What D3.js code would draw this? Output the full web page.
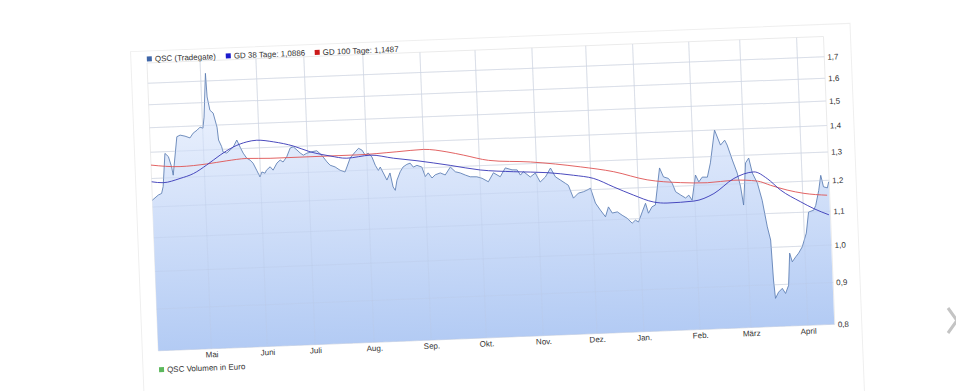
<!DOCTYPE html>
<html>
<head>
<meta charset="utf-8">
<script src="https://cdn.jsdelivr.net/npm/d3@7"></script>
<style>
  body { margin: 0; background: #fff; }
  svg { display: block; font-family: "Liberation Sans", Arial, sans-serif; }
</style>
</head>
<body>
<svg id="chart" width="956" height="391"></svg>
<script>
// trading day index -> closing price (Tradegate)
const price = [
  [0, 1.223], [2.4, 1.240], [3.7, 1.245], [4.4, 1.269], [5.6, 1.393], [6.9, 1.380],
  [8.0, 1.340], [8.5, 1.309], [10.5, 1.458], [11.8, 1.464], [13.7, 1.459], [15.6, 1.451],
  [16.9, 1.470], [18.5, 1.482], [19.7, 1.494], [20.8, 1.489], [21.4, 1.536], [22.6, 1.737],
  [22.9, 1.625], [23.8, 1.565], [25.0, 1.552], [26.3, 1.491], [26.7, 1.438], [27.8, 1.411],
  [28.3, 1.389], [29.7, 1.385], [31.0, 1.396], [32.3, 1.407], [33.8, 1.435], [35.0, 1.406],
  [36.1, 1.382], [37.4, 1.362], [38.7, 1.354], [39.8, 1.342], [41.1, 1.315], [42.3, 1.290],
  [43.1, 1.308], [44.3, 1.303], [44.9, 1.314], [46.4, 1.326], [47.5, 1.313], [49.1, 1.339],
  [50.4, 1.350], [51.5, 1.342], [53.0, 1.361], [54.5, 1.395], [55.7, 1.399], [57.1, 1.386],
  [58.3, 1.374], [59.5, 1.365], [60.9, 1.372], [62.9, 1.377], [64.8, 1.380], [66.7, 1.362],
  [68.6, 1.336], [69.8, 1.323], [71.7, 1.316], [73.6, 1.303], [75.5, 1.296], [76.3, 1.314],
  [77.7, 1.347], [79.8, 1.370], [81.1, 1.383], [82.4, 1.376], [83.6, 1.356], [84.8, 1.363],
  [86.2, 1.348], [87.4, 1.316], [88.5, 1.297], [89.3, 1.309], [90.4, 1.287], [91.7, 1.261],
  [93.0, 1.286], [94.0, 1.236], [94.8, 1.224], [95.6, 1.259], [97.0, 1.289], [98.2, 1.306],
  [99.7, 1.315], [101.0, 1.319], [102.2, 1.304], [103.6, 1.310], [105.5, 1.303], [106.7, 1.268],
  [107.9, 1.281], [109.3, 1.262], [110.6, 1.273], [112.6, 1.279], [114.5, 1.271], [116.6, 1.299],
  [118.5, 1.281], [120.4, 1.276], [122.3, 1.268], [124.2, 1.261], [126.8, 1.260], [128.8, 1.254],
  [131.2, 1.241], [133.3, 1.272], [135.9, 1.257], [138.0, 1.288], [140.6, 1.280], [142.6, 1.279],
  [143.8, 1.260], [145.0, 1.272], [147.6, 1.252], [149.6, 1.265], [151.4, 1.233], [153.5, 1.250],
  [155.6, 1.281], [157.4, 1.249], [159.3, 1.237], [161.2, 1.225], [162.3, 1.218], [164.1, 1.174],
  [166.1, 1.190], [168.1, 1.194], [169.5, 1.199], [170.9, 1.205], [172.6, 1.155], [174.4, 1.132],
  [176.3, 1.110], [177.6, 1.141], [179.0, 1.121], [181.0, 1.124], [182.8, 1.113], [184.7, 1.103],
  [186.6, 1.087], [187.9, 1.096], [189.1, 1.090], [190.7, 1.121], [192.1, 1.148], [193.1, 1.116],
  [194.6, 1.136], [195.9, 1.141], [198.1, 1.266], [199.5, 1.234], [201.4, 1.228], [202.8, 1.211],
  [204.0, 1.182], [206.0, 1.170], [207.8, 1.160], [209.1, 1.169], [210.3, 1.152], [212.0, 1.236],
  [213.2, 1.212], [214.6, 1.228], [216.6, 1.227], [218.0, 1.277], [220.1, 1.400], [222.2, 1.341],
  [223.9, 1.359], [224.8, 1.340], [226.6, 1.284], [228.3, 1.237], [229.4, 1.190], [230.3, 1.130],
  [231.7, 1.272], [233.0, 1.289], [234.2, 1.235], [236.0, 1.200], [237.6, 1.143], [239.2, 1.060],
  [240.3, 1.021], [240.8, 0.912], [241.3, 0.866], [242.6, 0.881], [244.1, 0.890], [245.3, 0.877],
  [246.6, 0.897], [247.5, 0.982], [248.4, 0.958], [249.8, 0.971], [251.0, 0.981], [252.5, 0.998],
  [254.3, 1.037], [255.5, 1.100], [257.5, 1.105], [258.4, 1.120], [259.8, 1.168], [260.8, 1.218],
  [261.7, 1.179], [263.2, 1.175], [263.8, 1.195]
];

// 38 day moving average
const gd38 = [
  [0, 1.288], [4.5, 1.283], [11.1, 1.296], [16.4, 1.312], [21.7, 1.342], [27.1, 1.378],
  [32.4, 1.408], [37.7, 1.426], [41.6, 1.431], [48.0, 1.422], [55.8, 1.402], [62.2, 1.377],
  [69.9, 1.358], [76.4, 1.347], [85.6, 1.355], [94.6, 1.340], [103.7, 1.327], [116.6, 1.305],
  [128.2, 1.284], [141.2, 1.273], [154.2, 1.265], [164.5, 1.252], [172.3, 1.238], [180.0, 1.206],
  [187.6, 1.176], [195.3, 1.151], [200.5, 1.146], [211.0, 1.149], [218.9, 1.171], [226.9, 1.219],
  [234.8, 1.239], [239.9, 1.214], [244.9, 1.174], [252.6, 1.133], [257.6, 1.110], [263.4, 1.089]
];

// 100 day moving average
const gd100 = [
  [0, 1.350], [11.3, 1.340], [21.7, 1.346], [29.6, 1.355], [37.4, 1.361], [46.5, 1.358],
  [62.1, 1.358], [80.4, 1.358], [96.0, 1.364], [106.4, 1.369], [115.5, 1.356], [122.0, 1.341],
  [131.6, 1.318], [147.9, 1.306], [167.3, 1.281], [180.2, 1.259], [193.1, 1.226], [206.0, 1.212],
  [216.5, 1.208], [226.9, 1.213], [236.0, 1.207], [241.1, 1.191], [247.5, 1.173], [254.0, 1.160],
  [263.0, 1.151]
];

const monthLabels = ["Mai", "Juni", "Juli", "Aug.", "Sep.", "Okt.", "Nov.", "Dez.", "Jan.", "Feb.", "März", "April"];
const monthDays = [20.7, 42.5, 61.2, 84.2, 106.5, 128, 150.2, 171.2, 189.5, 211.4, 231.3, 253.5];
const yTicks = [0.8, 0.9, 1.0, 1.1, 1.2, 1.3, 1.4, 1.5, 1.6, 1.7];

const legendItems = [
  { name: "QSC (Tradegate)", color: "#3f66a8" },
  { name: "GD 38 Tage: 1,0886", color: "#1a1acc" },
  { name: "GD 100 Tage: 1,1487", color: "#cc1a1a" }
];

const W = 677, H = 288;
const svg = d3.select("#chart");

const de = d3.formatLocale({ decimal: ",", thousands: ".", grouping: [3], currency: ["", " €"] });
const fmt = de.format(".1f");

const x = d3.scaleLinear().domain([0, 264]).range([0, W]);
const y = d3.scaleLog().domain([0.8, 1.8]).range([H, 0]);

// the chart sits slightly tilted on the page
const g = svg.append("g").attr("transform", "translate(147,63) rotate(-2.25)");

g.append("rect")
  .attr("x", -16).attr("y", -12)
  .attr("width", W + 43).attr("height", 380)
  .attr("fill", "#fff")
  .attr("stroke", "#efefef");

const grad = svg.append("defs").append("linearGradient")
  .attr("id", "fillGrad")
  .attr("gradientUnits", "userSpaceOnUse")
  .attr("x1", 0).attr("y1", 0).attr("x2", 0).attr("y2", H);
grad.append("stop").attr("offset", 0).attr("stop-color", "#f5f8ff");
grad.append("stop").attr("offset", 1).attr("stop-color", "#b3cbf4");

// grid
g.append("g")
  .selectAll("line")
  .data(yTicks.concat([1.8]))
  .join("line")
  .attr("x1", 0).attr("x2", W)
  .attr("y1", d => y(d)).attr("y2", d => y(d))
  .attr("stroke", "#ebebeb");

g.append("g")
  .selectAll("line")
  .data([0].concat(monthDays, [264]))
  .join("line")
  .attr("x1", d => x(d)).attr("x2", d => x(d))
  .attr("y1", 0).attr("y2", H)
  .attr("stroke", "#ebebeb");

// price area + line
g.append("path")
  .datum(price)
  .attr("fill", "url(#fillGrad)")
  .attr("d", d3.area().x(d => x(d[0])).y0(H).y1(d => y(d[1])));

g.append("path")
  .datum(price)
  .attr("fill", "none")
  .attr("stroke", "#5b7db3")
  .attr("stroke-width", 0.85)
  .attr("d", d3.line().x(d => x(d[0])).y(d => y(d[1])));

// faint grid over the fill
g.append("g")
  .selectAll("line")
  .data(yTicks)
  .join("line")
  .attr("x1", 0).attr("x2", W)
  .attr("y1", d => y(d)).attr("y2", d => y(d))
  .attr("stroke", "#b9c9e6").attr("stroke-opacity", 0.35);

g.append("g")
  .selectAll("line")
  .data(monthDays)
  .join("line")
  .attr("x1", d => x(d)).attr("x2", d => x(d))
  .attr("y1", 0).attr("y2", H)
  .attr("stroke", "#b9c9e6").attr("stroke-opacity", 0.35);

g.append("path")
  .datum(gd100)
  .attr("fill", "none")
  .attr("stroke", "#df5555")
  .attr("stroke-width", 0.9)
  .attr("d", d3.line().curve(d3.curveMonotoneX).x(d => x(d[0])).y(d => y(d[1])));

g.append("path")
  .datum(gd38)
  .attr("fill", "none")
  .attr("stroke", "#3a3ab8")
  .attr("stroke-width", 0.9)
  .attr("d", d3.line().curve(d3.curveMonotoneX).x(d => x(d[0])).y(d => y(d[1])));

// right axis
const yAxis = g.append("g")
  .attr("transform", `translate(${W},0)`)
  .call(d3.axisRight(y).tickValues(yTicks).tickFormat(fmt).tickSize(0).tickPadding(3));
yAxis.select(".domain").remove();
yAxis.selectAll("text").attr("font-size", 8).attr("fill", "#333").attr("font-family", null);

// month labels
const xAxis = g.append("g")
  .attr("transform", `translate(0,${H})`)
  .call(d3.axisBottom(x).tickValues(monthDays).tickFormat((d, i) => monthLabels[i]).tickSize(0).tickPadding(3));
xAxis.select(".domain").remove();
xAxis.selectAll("text").attr("font-size", 8).attr("fill", "#333").attr("font-family", null);

// legend
const legX = [0, 79, 168];
const leg = g.append("g").selectAll("g")
  .data(legendItems)
  .join("g")
  .attr("transform", (d, i) => `translate(${legX[i]},-4)`);
leg.append("rect")
  .attr("x", 0).attr("y", -2.5).attr("width", 5).attr("height", 5)
  .attr("fill", d => d.color);
leg.append("text")
  .attr("x", 8).attr("dy", "0.35em")
  .attr("font-size", 8).attr("fill", "#333")
  .text(d => d.name);

const vol = g.append("g").attr("transform", "translate(0,307)");
vol.append("rect").attr("x", 0).attr("y", -2.5).attr("width", 5).attr("height", 5).attr("fill", "#5cb85c");
vol.append("text").attr("x", 8).attr("dy", "0.35em").attr("font-size", 8).attr("fill", "#333")
  .text("QSC Volumen in Euro");

// carousel arrow at the right edge
svg.append("path")
  .attr("d", "M948,308 L957,320.5 L948,333")
  .attr("fill", "none")
  .attr("stroke", "#c4c4c4")
  .attr("stroke-width", 3);
</script>
</body>
</html>
